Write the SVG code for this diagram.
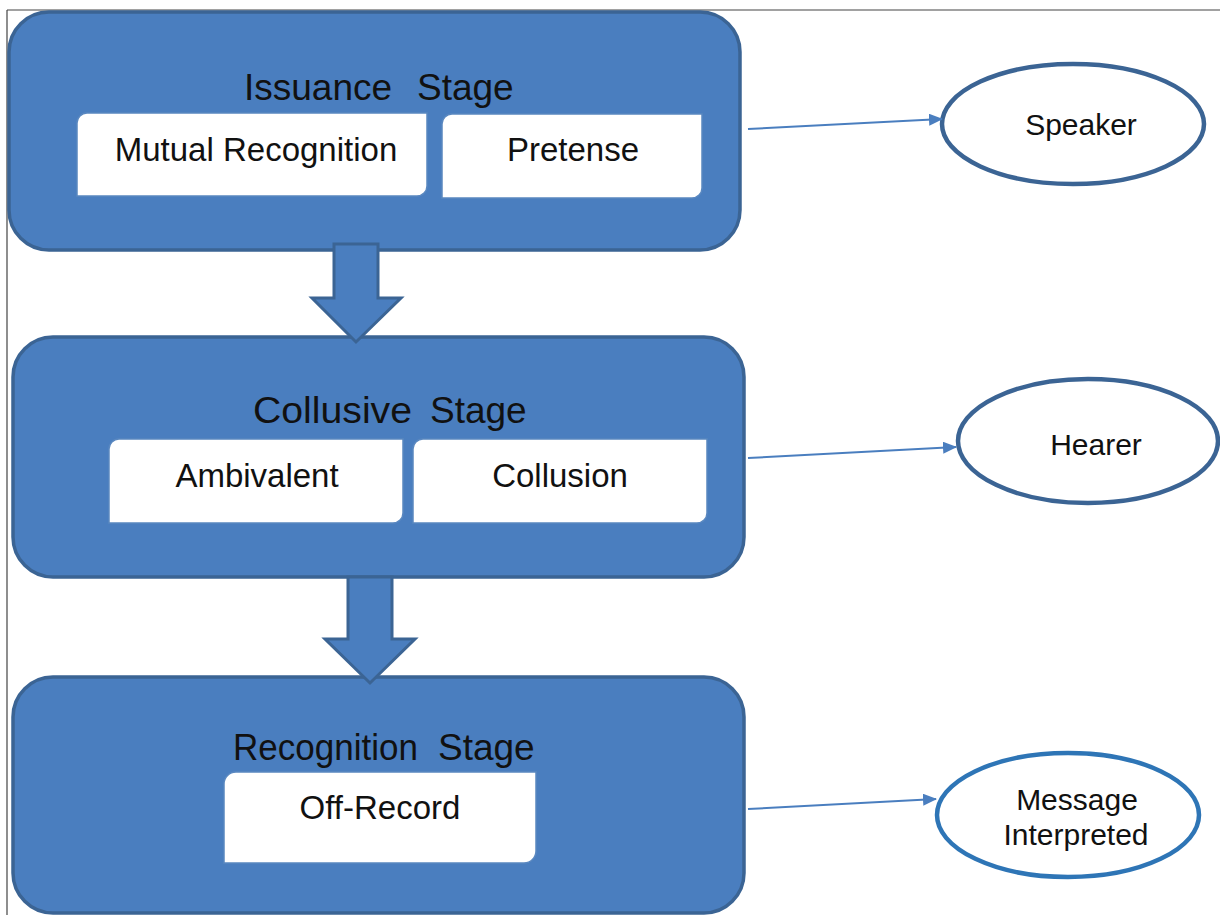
<svg xmlns="http://www.w3.org/2000/svg" width="1220" height="915" viewBox="0 0 1220 915">
<style>
.stage{fill:#4a7ebf;stroke:#3b6494;stroke-width:3.5}
.sub{fill:#ffffff;stroke:#5a88c0;stroke-width:1.5}
.oval{fill:#ffffff;stroke:#3b6494;stroke-width:4.5}
.oval2{fill:#ffffff;stroke:#2e75b6;stroke-width:4.5}
.down{fill:#4a7ebf;stroke:#3b6494;stroke-width:3;stroke-linejoin:miter}
.conn{stroke:#4a7ebf;stroke-width:2;fill:none}
.title{font-family:"Liberation Sans",Arial,sans-serif;font-size:37px;fill:#111}
.lbl{font-family:"Liberation Sans",Arial,sans-serif;font-size:33px;fill:#111;text-anchor:middle}
.olbl{font-family:"Liberation Sans",Arial,sans-serif;font-size:30px;fill:#111;text-anchor:middle}
</style>
<defs>
<marker id="ah" markerUnits="userSpaceOnUse" markerWidth="14" markerHeight="12" refX="13" refY="6" orient="auto">
<path d="M0,0 L14,6 L0,12 Z" fill="#4a7ebf"/>
</marker>
</defs>
<rect width="1220" height="915" fill="#ffffff"/>
<g id="frame">
<line x1="7" y1="10" x2="1220" y2="10" stroke="#444" stroke-width="1.2"/>
<line x1="7" y1="10" x2="7" y2="915" stroke="#444" stroke-width="1.2"/>
</g>
<g id="issuance-stage">
<rect class="stage" x="9" y="12" width="731" height="238" rx="40" ry="40"/>
<text class="title" y="100"><tspan x="244">Issuance</tspan><tspan x="417">Stage</tspan></text>
</g>
<g id="mutual-recognition">
<path class="sub" d="M87,113 H427 V186 A10,10 0 0 1 417,196 H77 V123 A10,10 0 0 1 87,113 Z"/>
<text class="lbl" x="256" y="161">Mutual Recognition</text>
</g>
<g id="pretense">
<path class="sub" d="M452,114 H702 V188 A10,10 0 0 1 692,198 H442 V124 A10,10 0 0 1 452,114 Z"/>
<text class="lbl" x="573" y="161">Pretense</text>
</g>
<g id="collusive-stage">
<rect class="stage" x="13" y="337" width="731" height="240" rx="40" ry="40"/>
<text class="title" y="423"><tspan x="253" textLength="159" lengthAdjust="spacingAndGlyphs">Collusive</tspan><tspan x="430">Stage</tspan></text>
</g>
<g id="ambivalent">
<path class="sub" d="M119,439 H403 V513 A10,10 0 0 1 393,523 H109 V449 A10,10 0 0 1 119,439 Z"/>
<text class="lbl" x="257" y="487">Ambivalent</text>
</g>
<g id="collusion">
<path class="sub" d="M423,439 H707 V513 A10,10 0 0 1 697,523 H413 V449 A10,10 0 0 1 423,439 Z"/>
<text class="lbl" x="560" y="487">Collusion</text>
</g>
<g id="recognition-stage">
<rect class="stage" x="13" y="677" width="731" height="236" rx="40" ry="40"/>
<text class="title" y="760"><tspan x="233" textLength="185" lengthAdjust="spacingAndGlyphs">Recognition</tspan><tspan x="438">Stage</tspan></text>
</g>
<g id="off-record">
<path class="sub" d="M236,772 H536 V851 A12,12 0 0 1 524,863 H224 V784 A12,12 0 0 1 236,772 Z"/>
<text class="lbl" x="380" y="819">Off-Record</text>
</g>
<g id="speaker">
<ellipse class="oval" cx="1073" cy="124" rx="131" ry="60"/>
<text class="olbl" x="1081" y="135">Speaker</text>
</g>
<g id="hearer">
<ellipse class="oval" cx="1088" cy="441" rx="130" ry="62"/>
<text class="olbl" x="1096" y="455">Hearer</text>
</g>
<g id="message-interpreted">
<ellipse class="oval2" cx="1068" cy="815" rx="131" ry="62"/>
<text class="olbl" x="1077" y="810">Message</text>
<text class="olbl" x="1076" y="845">Interpreted</text>
</g>
<g id="connectors">
<polygon class="down" points="334,244 378,244 378,298 401,298 356,342 312,298 334,298"/>
<polygon class="down" points="348,577 392,577 392,639 415,639 370,683 325,639 348,639"/>
<line class="conn" x1="748" y1="129" x2="942" y2="119" marker-end="url(#ah)"/>
<line class="conn" x1="748" y1="458" x2="956" y2="447" marker-end="url(#ah)"/>
<line class="conn" x1="748" y1="809" x2="936" y2="799" marker-end="url(#ah)"/>
</g>
</svg>
